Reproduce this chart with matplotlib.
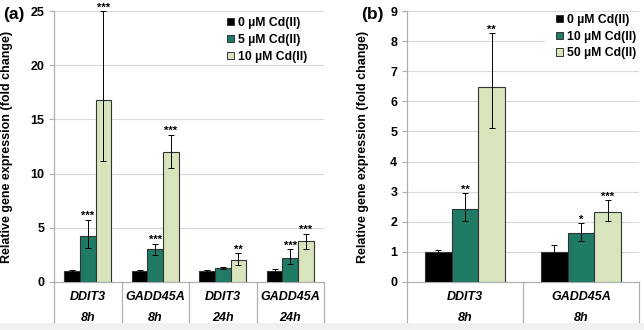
import matplotlib
matplotlib.use("Agg")
import matplotlib.pyplot as plt
import matplotlib.transforms as mtransforms
from matplotlib.patches import Patch, Rectangle
import numpy as np

plt.rcParams['font.family'] = ['Liberation Sans', 'DejaVu Sans']
plt.rcParams['font.weight'] = 'bold'

# ---- Panel (a): Cd(II) 0 / 5 / 10 µM at 8h and 24h ----
a_genes = ['DDIT3', 'GADD45A', 'DDIT3', 'GADD45A']
a_times = ['8h', '8h', '24h', '24h']
a_labels = ['0 µM Cd(II)', '5 µM Cd(II)', '10 µM Cd(II)']
a_vals = [
    [1.0, 1.0, 1.0, 1.0],
    [4.22, 3.0, 1.3, 2.17],
    [16.8, 12.0, 2.05, 3.75],
]
a_err_lo = [
    [0.08, 0.08, 0.08, 0.2],
    [1.07, 0.5, 0.12, 0.55],
    [5.6, 1.45, 0.5, 0.75],
]
a_err_hi = [
    [0.08, 0.08, 0.08, 0.22],
    [1.53, 0.55, 0.12, 0.86],
    [8.2, 1.6, 0.62, 0.72],
]
a_stars = [
    ['', '', '', ''],
    ['***', '***', '', '***'],
    ['***', '***', '**', '***'],
]

# ---- Panel (b): Cd(II) 0 / 10 / 50 µM at 8h ----
b_genes = ['DDIT3', 'GADD45A']
b_times = ['8h', '8h']
b_labels = ['0 µM Cd(II)', '10 µM Cd(II)', '50 µM Cd(II)']
b_vals = [
    [1.0, 1.0],
    [2.43, 1.62],
    [6.49, 2.34],
]
b_err_lo = [
    [0.05, 0.22],
    [0.4, 0.26],
    [1.36, 0.31],
]
b_err_hi = [
    [0.05, 0.22],
    [0.52, 0.33],
    [1.77, 0.37],
]
b_stars = [
    ['', ''],
    ['**', '*'],
    ['**', '***'],
]

colors = ['#000000', '#1f7a66', '#d8e4bc']
edge = '#333333'
axis_grey = '#b0b0b0'
grid_grey = '#d9d9d9'

W, H = 644, 330
fig = plt.figure(figsize=(W / 100, H / 100), dpi=100)
fig.patch.set_facecolor('white')
fig.patches.append(Rectangle((0, 0), 1, 7 / H, transform=fig.transFigure,
                             facecolor='#f0f0f0', edgecolor='none', zorder=-5))


def px_axes(left, right, top, bottom):
    return fig.add_axes([left / W, (H - bottom) / H, (right - left) / W, (bottom - top) / H])


def draw_panel(ax, genes, times, labels, vals, lo, hi, stars, ymax, ystep,
               legend_anchor, ylabel_x, legend_box=None):
    n = len(genes)
    x = np.arange(n)
    width = 0.23
    star_off = mtransforms.offset_copy(ax.transData, fig=fig, x=0, y=0.5,
                                       units='dots')
    for i in range(3):
        xs = x + (i - 1) * width
        ax.bar(xs, vals[i], width, color=colors[i], edgecolor=edge,
               linewidth=0.8, zorder=3, label=labels[i])
        ax.errorbar(xs, vals[i], yerr=[lo[i], hi[i]], fmt='none',
                    ecolor='black', elinewidth=0.7, capsize=2.2,
                    capthick=0.7, zorder=4)
        for j in range(n):
            if stars[i][j]:
                ax.text(xs[j], vals[i][j] + hi[i][j], stars[i][j],
                        transform=star_off, ha='center', va='baseline',
                        fontsize=8, zorder=5, clip_on=False)
    ax.set_xlim(-0.5, n - 0.5)
    ax.set_ylim(0, ymax)
    ax.set_yticks(np.arange(0, ymax + 0.01, ystep))
    ax.set_xticks([])
    ax.yaxis.grid(True, color=grid_grey, linewidth=0.8, zorder=0)
    ax.set_axisbelow(True)
    for s in ['top', 'right']:
        ax.spines[s].set_visible(False)
    for s in ['left', 'bottom']:
        ax.spines[s].set_color(axis_grey)
        ax.spines[s].set_linewidth(0.9)
    ax.tick_params(axis='y', direction='out', length=3.5, width=0.9,
                   color=axis_grey, labelsize=9, pad=3.5)
    for t in ax.get_yticklabels():
        t.set_fontweight('bold')
    ax.set_ylabel('Relative gene expression (fold change)', fontsize=9,
                  fontweight='bold')
    ax.yaxis.set_label_coords(ylabel_x, 0.5)

    # category table below the x-axis
    trans = mtransforms.blended_transform_factory(ax.transData, ax.transAxes)
    axh = ax.get_position().height * H
    d = -40 / axh
    for b in np.arange(-0.5, n, 1.0):
        ax.plot([b, b], [0, d], transform=trans, color=axis_grey,
                linewidth=0.9, clip_on=False)
    for j in range(n):
        ax.text(x[j], -15 / axh, genes[j], transform=trans, ha='center',
                va='center', fontsize=9, fontweight='bold', style='italic')
        ax.text(x[j], -36 / axh, times[j], transform=trans, ha='center',
                va='center', fontsize=9, fontweight='bold', style='italic')

    if legend_box is not None:
        ax.add_patch(Rectangle(legend_box[:2], legend_box[2], legend_box[3],
                               transform=ax.transAxes, facecolor='white',
                               edgecolor='none', zorder=1))

    handles = [Patch(facecolor=colors[i], edgecolor=edge, linewidth=0.7,
                     label=labels[i]) for i in range(3)]
    ax.legend(handles=handles, loc='upper left', bbox_to_anchor=legend_anchor,
              frameon=False, handlelength=0.57, handleheight=0.57,
              handletextpad=0.3, labelspacing=0.4, borderpad=0,
              borderaxespad=0, prop={'weight': 'bold', 'size': 8.8})


ax_a = px_axes(54, 324, 11, 282)
draw_panel(ax_a, a_genes, a_times, a_labels, a_vals, a_err_lo, a_err_hi,
           a_stars, 25, 5, (0.642, 0.978), -0.152)
ax_b = px_axes(407, 639, 11, 282)
draw_panel(ax_b, b_genes, b_times, b_labels, b_vals, b_err_lo, b_err_hi,
           b_stars, 9, 1, (0.642, 0.99), -0.164,
           legend_box=(0.595, 0.8, 0.405, 0.185))

fig.text(3 / W, 1 - 15 / H, '(a)', fontsize=12.5, fontweight='bold',
         ha='left', va='center')
fig.text(361 / W, 1 - 15 / H, '(b)', fontsize=12.5, fontweight='bold',
         ha='left', va='center')

fig.savefig('out.png', dpi=100, facecolor=fig.get_facecolor())
